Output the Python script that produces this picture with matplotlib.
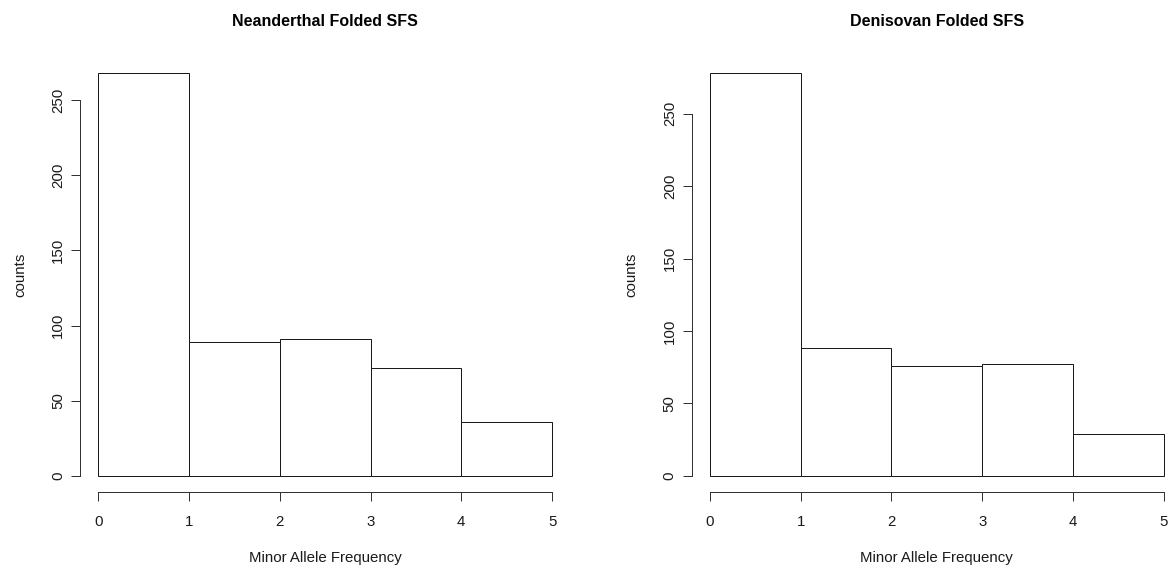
import matplotlib
matplotlib.use("Agg")
import matplotlib.pyplot as plt

plt.rcParams['font.family'] = ['Liberation Sans', 'DejaVu Sans']

bins = [0, 1, 2, 3, 4, 5]
neanderthal_counts = [268, 89, 91, 72, 36]
denisovan_counts = [278, 88, 76, 77, 29]
titles = ["Neanderthal Folded SFS", "Denisovan Folded SFS"]
xlabel = "Minor Allele Frequency"
ylabel = "counts"
yticks = [0, 50, 100, 150, 200, 250]
xticks = [0, 1, 2, 3, 4, 5]

W, H = 1173, 569
DPI = 100
fig = plt.figure(figsize=(W / DPI, H / DPI), dpi=DPI)

px = 72.0 / DPI  # points per pixel
fs = 15 * px
fs_title = 16 * px

lefts_px = [80.2, 691.8]
width_px = 490.0
top_px = 56.8
bottom_px = 492.1

for i, (counts, title) in enumerate(zip([neanderthal_counts, denisovan_counts], titles)):
    ax = fig.add_axes([lefts_px[i] / W, (H - bottom_px) / H, width_px / W, (bottom_px - top_px) / H])
    ax.bar(bins[:-1], counts, width=1, align='edge', facecolor='white',
           edgecolor='#1a1a1a', linewidth=1.0 * px)
    m = max(counts)
    ax.set_xlim(-0.2, 5.2)
    ax.set_ylim(-0.04 * m, 1.04 * m)
    for s in ['top', 'right']:
        ax.spines[s].set_visible(False)
    ax.spines['left'].set_bounds(0, 250)
    ax.spines['bottom'].set_bounds(0, 5)
    for s in ['left', 'bottom']:
        ax.spines[s].set_linewidth(1.0 * px)
        ax.spines[s].set_color('#333333')
    ax.set_xticks(xticks)
    ax.set_yticks(yticks)
    ax.set_xticklabels([str(t) for t in xticks])
    ax.set_yticklabels([str(t) for t in yticks], rotation=90, va='center')
    ax.tick_params(axis='both', length=9 * px, width=1.0 * px, color='#333333',
                   labelsize=fs, labelcolor='#1a1a1a')
    ax.tick_params(axis='x', pad=14 * px)
    ax.tick_params(axis='y', pad=6 * px)
    ax.set_xlabel(xlabel, fontsize=fs, labelpad=22 * px, color='#1a1a1a')
    ax.set_ylabel(ylabel, fontsize=fs, labelpad=24 * px, color='#1a1a1a')
    ax.set_title(title, fontsize=fs_title, fontweight='bold', pad=31 * px)
    ax.patch.set_visible(False)

fig.savefig("out.png", dpi=DPI, facecolor='white')
